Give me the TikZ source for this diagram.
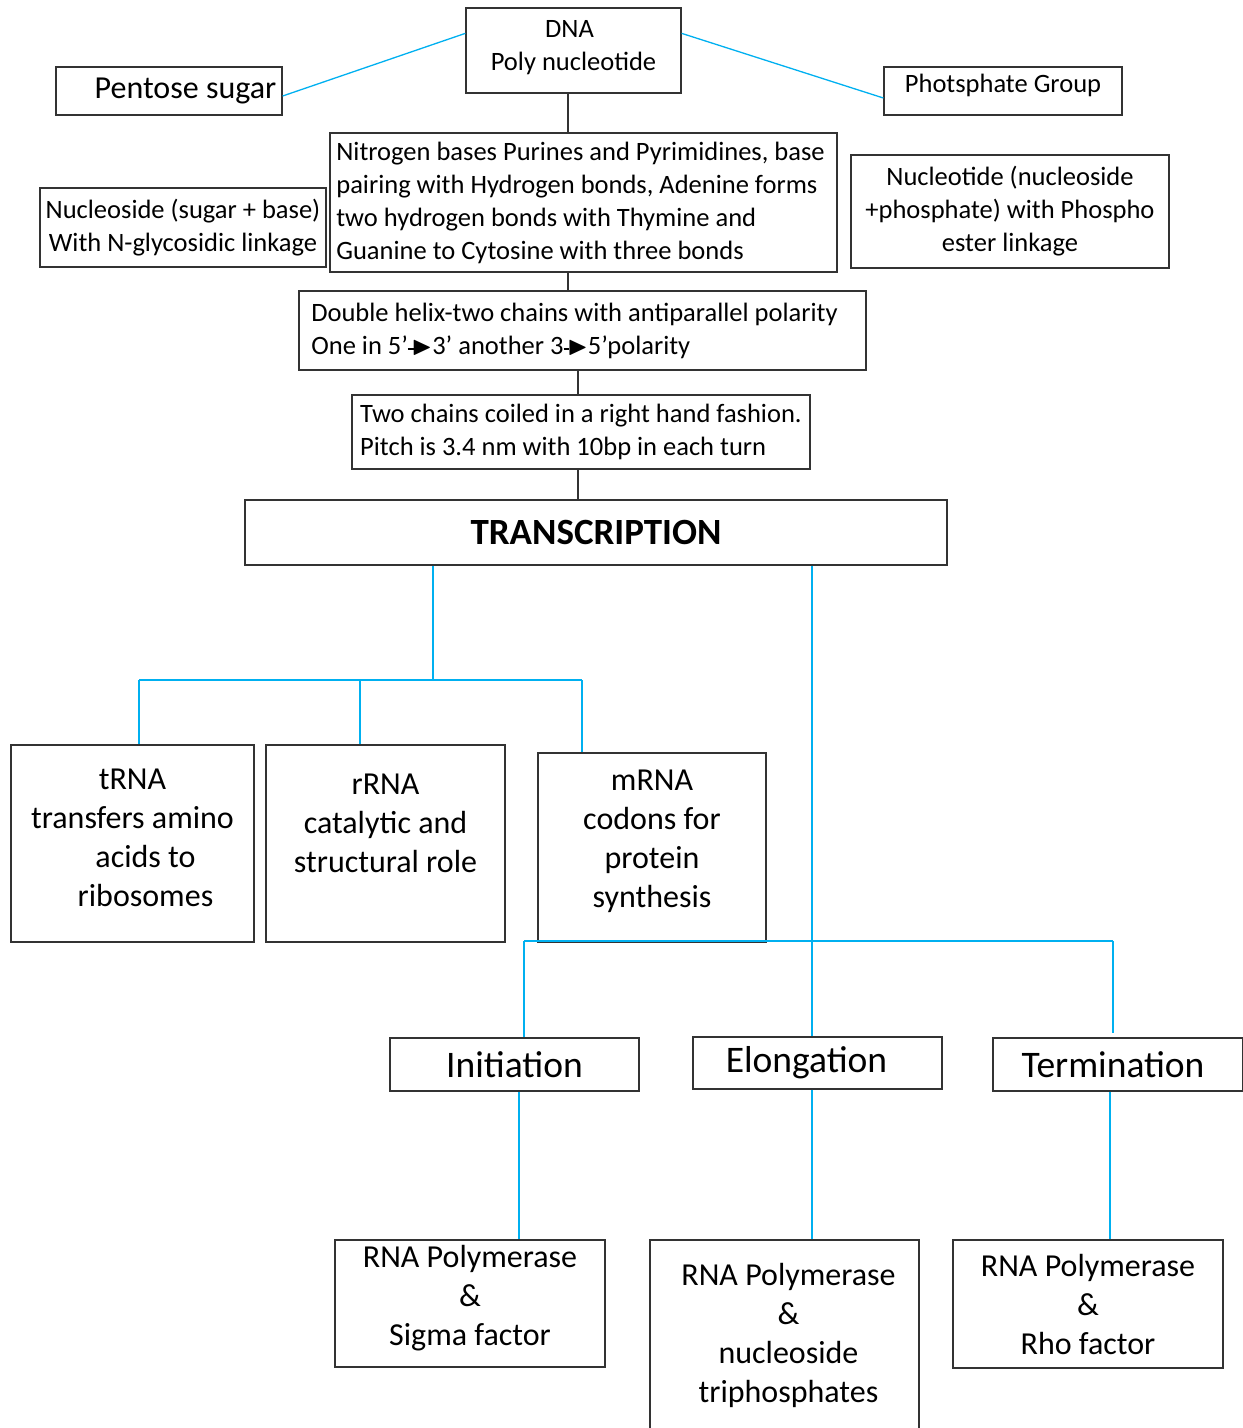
\documentclass[tikz,border=0pt]{standalone}
\usepackage{amssymb}
\usepackage{fontspec}
\setmainfont{Carlito}
\usetikzlibrary{positioning}
\definecolor{linkblue}{RGB}{0,176,240}
\newcommand{\polarr}{\rule[0.3ex]{0.22em}{0.07em}\kern-0.08em$\blacktriangleright$}
\tikzset{box/.style = {draw = black!80, line width = 1.3pt, inner sep = 0pt, align = center},
  link/.style = {draw = linkblue, line width = 1.3pt},
  stem/.style = {draw = black!80, line width = 1.2pt},
  txtS/.style = {font = \fontsize{26.5}{33}\selectfont},
  txtM/.style = {font = \fontsize{32}{39}\selectfont},
  txtL/.style = {font = \fontsize{37.5}{42}\selectfont}}

\begin{document}
\begin{tikzpicture}[x = 1pt, y = -1pt]
      \useasboundingbox (0, 0) rectangle (1243, 1428);

      % DNA and its parts
      \node [box, txtS, minimum width = 215, minimum height = 85] (dna) at (573.5, 50.5) {DNA\hspace*{8pt}\\Poly nucleotide\hspace*{8pt}\\[-33pt]\strut};
      \node [box, txtM, minimum width = 226, minimum height = 48] (pentose) at (169, 91) {\hspace*{33pt}Pentose sugar};
      \node [box, txtS, minimum width = 238, minimum height = 48] (phos) at (1003, 91) {Photsphate Group\\[-28pt]\strut};
      \node [box, txtS, align = left, minimum width = 507, minimum height = 139] (nitro) at (583.5, 202.5)
        {Nitrogen bases Purines and Pyrimidines, base\hspace*{6pt}\\pairing with Hydrogen bonds, Adenine forms\\two hydrogen bonds with Thymine and\\Guanine to Cytosine with three bonds};
      \node [box, txtS, minimum width = 286, minimum height = 79] (nside) at (183, 227.5) {Nucleoside (sugar + base)\\With N-glycosidic linkage};
      \node [box, txtS, minimum width = 318, minimum height = 113] (ntide) at (1010, 211.5) {Nucleotide (nucleoside\\+phosphate) with Phospho\\ester linkage};
      \node [box, txtS, align = left, minimum width = 567, minimum height = 79] (helix) at (582.5, 330.5)
        {Double helix-two chains with antiparallel polarity\hspace*{16pt}\\One in 5’\polarr3’ another 3\polarr5’polarity};
      \node [box, txtS, align = left, minimum width = 458, minimum height = 74] (chains) at (581, 432)
        {Two chains coiled in a right hand fashion.\\Pitch is 3.4 nm with 10bp in each turn};
      \node [box, font = \fontsize{37}{42}\selectfont\bfseries, minimum width = 702, minimum height = 65] (trans) at (596, 532.5) {TRANSCRIPTION};

      \draw [link] (pentose.east) ++(0, 5) -- ([yshift = -26]dna.north west);
      \draw [link] ([yshift = -26]dna.north east) -- ([yshift = -7]phos.west);
      \coordinate (spineA) at (568, 0);
      \coordinate (spineB) at (578, 0);
      \draw [stem] (spineA |- dna.south) -- (spineA |- nitro.north);
      \draw [stem] (spineA |- nitro.south) -- (spineA |- helix.north);
      \draw [stem] (spineB |- helix.south) -- (spineB |- chains.north);
      \draw [stem] (spineB |- chains.south) -- (spineB |- trans.north);

      % RNA types
      \node [box, txtM, minimum width = 243, minimum height = 197] (trna) at (132.5, 843.5)
        {tRNA\\transfers amino\\\hspace*{26pt}acids to\\\hspace*{26pt}ribosomes\\[-40pt]\strut};
      \node [box, txtM, minimum width = 239, minimum height = 197] (rrna) at (385.5, 843.5) {rRNA\\catalytic and\\structural role\\[-10pt]\strut};
      \node [box, txtM, minimum width = 228, minimum height = 189] (mrna) at (652, 847.5) {mRNA\\codons for\\protein\\synthesis\\[-34pt]\strut};

      \coordinate (forkA) at (433, 680);
      \draw [link] (trans.south -| forkA) -- (forkA);
      \draw [link] (139, 680) -- (582, 680);
      \foreach \x/\to in {139/trna, 360/rrna, 582/mrna} {
        \draw [link] (\x, 680) -- (\x, 0 |- \to.north);
      }

      % stages
      \node [box, txtL, minimum width = 249, minimum height = 53] (init) at (514.5, 1064.5) {Initiation};
      \node [box, txtL, minimum width = 249, minimum height = 52] (elong) at (817.5, 1063) {Elongation\hspace*{22pt}};
      \node [box, txtL, minimum width = 250, minimum height = 53] (term) at (1118, 1064.5) {Termination\hspace*{10pt}};

      \coordinate (forkB) at (524, 941);
      \coordinate (forkC) at (1113, 941);
      \draw [link] (forkB) -- (forkC);
      \draw [link] (forkB) -- (forkB |- init.north);
      \draw [link] (forkC) -- ([yshift = 4]forkC |- term.north);
      \draw [link] (812, 0 |- trans.south) -- (812, 0 |- elong.north);

      % enzymes
      \node [box, txtM, minimum width = 270, minimum height = 127] (sigma) at (470, 1303.5) {RNA Polymerase\\\&\\Sigma factor\\[-34pt]\strut};
      \node [box, txtM, minimum width = 269, minimum height = 190] (ntp) at (784.5, 1335)
        {\hspace*{8pt}RNA Polymerase\\\hspace*{8pt}\&\\\hspace*{8pt}nucleoside\\\hspace*{8pt}triphosphates};
      \node [box, txtM, minimum width = 270, minimum height = 128] (rho) at (1088, 1304) {RNA Polymerase\\\&\\Rho factor};

      \foreach \x/\from/\to in {519/init/sigma, 812/elong/ntp, 1110/term/rho} {
        \draw [link] (\x, 0 |- \from.south) -- (\x, 0 |- \to.north);
      }
\end{tikzpicture}
\end{document}
